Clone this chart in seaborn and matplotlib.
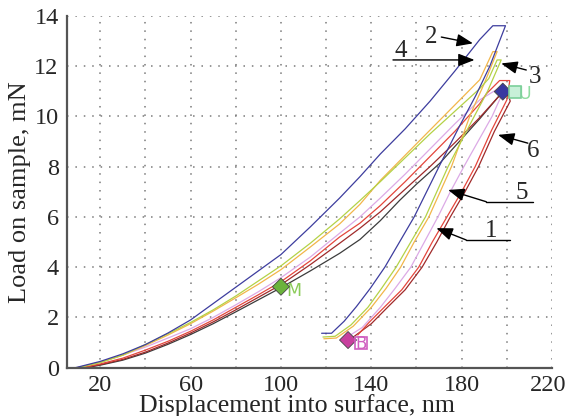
import matplotlib
matplotlib.use("Agg")
import matplotlib.pyplot as plt
import matplotlib.transforms as mtransforms
import seaborn as sns
import pandas as pd
from matplotlib.ticker import MultipleLocator, FuncFormatter

# ---------------- data (displacement nm, load mN) ----------------
# curve 2 (blue): loading, hold, unloading, hold
c2_x = [9, 20, 30, 40, 50, 60, 70, 80, 90, 100, 113, 126, 135, 144, 155, 166, 177, 188, 193.8,
        199.4, 192.5, 186.4, 179, 170, 164.5, 159, 152.5, 146, 139.5, 133.4, 128, 122.4, 118]
c2_y = [0, 0.25, 0.55, 0.92, 1.38, 1.9, 2.55, 3.2, 3.85, 4.5, 5.6, 6.75, 7.6, 8.5, 9.5, 10.6, 11.8, 13.05, 13.6,
        13.6, 12.0, 10.85, 9.6, 8.0, 7.0, 6.0, 5.0, 4.0, 3.15, 2.43, 1.85, 1.37, 1.37]

# curve 3 (yellow-green)
c3_x = [10, 20, 30, 40, 50, 60, 70, 80, 90, 100, 113, 126, 135, 144, 155, 166, 177, 188, 192, 195.7,
        197.5, 191.5, 185, 174, 169, 164, 157.5, 151, 144.5, 138.5, 131, 124, 118.6]
c3_y = [0, 0.2, 0.5, 0.92, 1.35, 1.8, 2.3, 2.85, 3.45, 4.05, 4.95, 5.92, 6.65, 7.4, 8.35, 9.3, 10.2, 11.1, 11.5, 12.24,
        12.24, 11.0, 9.9, 8.0, 7.0, 6.0, 5.0, 4.0, 3.15, 2.4, 1.7, 1.25, 1.22]

# curve 4 (orange)
c4_x = [10, 20, 30, 40, 50, 60, 70, 80, 90, 100, 113, 126, 135, 144, 155, 166, 177, 188, 193.8,
        195.7, 190, 184, 175.5, 170.5, 165.5, 159, 153, 146.5, 140, 132, 124.5, 119]
c4_y = [0, 0.22, 0.5, 0.88, 1.3, 1.75, 2.25, 2.78, 3.32, 3.9, 4.8, 5.72, 6.5, 7.45, 8.45, 9.45, 10.45, 11.45, 12.57,
        12.57, 11.3, 10.1, 8.0, 7.0, 6.0, 5.0, 4.0, 3.15, 2.4, 1.65, 1.18, 1.15]

# curve 5 (pink)
c5_x = [10, 20, 30, 40, 50, 60, 70, 80, 90, 100, 113, 126, 135, 144, 155, 166, 177, 188, 198,
        199.5, 193.5, 181, 175, 169.5, 163.5, 157.5, 150.5, 144, 136, 129]
c5_y = [0, 0.22, 0.5, 0.82, 1.18, 1.55, 2.0, 2.5, 3.02, 3.58, 4.4, 5.35, 6.0, 6.75, 7.7, 8.7, 9.7, 10.65, 11.2,
        11.2, 10.0, 8.0, 7.0, 6.0, 5.0, 4.0, 3.15, 2.4, 1.6, 1.2]

# curve 6 (red)
c6_x = [12, 20, 30, 40, 50, 60, 70, 80, 90, 100, 113, 126, 135, 144, 155, 166, 177, 188, 191, 196.8,
        201.3, 200, 193, 186, 180, 173.5, 167, 161, 153.5, 146, 139, 134]
c6_y = [0, 0.15, 0.38, 0.7, 1.05, 1.45, 1.9, 2.4, 2.9, 3.42, 4.25, 5.2, 5.75, 6.45, 7.4, 8.4, 9.4, 10.5, 10.9, 11.42,
        11.42, 10.65, 9.4, 8.0, 7.0, 6.0, 5.0, 4.0, 3.1, 2.43, 1.8, 1.3]

# curve 1 (dark red)
c1_x = [12, 20, 30, 40, 50, 60, 70, 80, 90, 100, 113, 126, 135, 144, 155, 166, 177, 188, 196, 200,
        201.5, 194.5, 187.5, 181.5, 175, 169, 162.5, 155, 147.5, 140, 131]
c1_y = [0, 0.12, 0.33, 0.62, 0.98, 1.38, 1.82, 2.3, 2.8, 3.3, 4.1, 4.95, 5.55, 6.2, 7.1, 8.0, 8.95, 9.95, 10.75, 11.05,
        10.6, 9.4, 8.0, 7.0, 6.0, 5.0, 4.0, 3.1, 2.43, 1.75, 1.15]

# loading trace (dark grey)
c0_x = [14, 20, 30, 40, 50, 60, 70, 80, 90, 100, 113, 126, 135, 144, 152.6, 160, 170.3, 180, 188, 198.2]
c0_y = [0, 0.1, 0.3, 0.58, 0.93, 1.32, 1.75, 2.22, 2.7, 3.18, 3.85, 4.55, 5.1, 5.85, 6.66, 7.3, 8.13, 9.1, 9.9, 10.98]

curves = {"0": (c0_x, c0_y), "1": (c1_x, c1_y), "5": (c5_x, c5_y), "6": (c6_x, c6_y),
          "4": (c4_x, c4_y), "3": (c3_x, c3_y), "2": (c2_x, c2_y)}
colors = {"0": "#3c3c3c", "1": "#a02a2a", "5": "#dcaae6", "6": "#e4463c",
          "4": "#f2b64a", "3": "#b4d246", "2": "#3d3d9e"}

# marker points
mark_x = [100, 198.2, 129.7]
mark_y = [3.22, 10.98, 1.1]
mark_lab = ["M", "U", "B"]

rows = []
for name, (xs, ys) in curves.items():
    for i, (x, y) in enumerate(zip(xs, ys)):
        rows.append({"curve": name, "i": i, "x": x, "y": y})
df = pd.DataFrame(rows)

sns.set_style("white")
plt.rcParams["font.family"] = ["Liberation Serif", "DejaVu Serif"]

fig = plt.figure(figsize=(5.66, 4.16), dpi=100)
ax = fig.add_axes([0.1184, 0.1161, 0.9753 - 0.1184, 0.9623 - 0.1161])

sns.lineplot(data=df, x="x", y="y", hue="curve", palette=colors, sort=False,
             estimator=None, linewidth=0.9, legend=False, ax=ax)

# markers
mk = pd.DataFrame({"x": mark_x, "y": mark_y, "lab": mark_lab})
mcol = {"M": "#6bb33c", "U": "#3838a0", "B": "#c8409e"}
sns.scatterplot(data=mk, x="x", y="y", hue="lab", palette=mcol, marker="D", s=75,
                edgecolor="#444444", linewidth=0.6, legend=False, ax=ax, zorder=5)
ax.plot([mark_x[1] + 5.3], [mark_y[1]], marker="s", ms=8, mfc="#c8f0d8", mec="#7ccf9a", mew=1.2, zorder=5)
ax.plot([mark_x[2] + 5.6], [mark_y[2] - 0.12], marker="s", ms=8, mfc="none", mec="#d060c0", mew=1.2, zorder=5)
ax.text(mark_x[0] + 2.5, mark_y[0] - 0.15, "M", color="#8ccc5a", fontsize=12.5,
        family="DejaVu Sans", va="center", ha="left")
ax.text(mark_x[1] + 6.8, mark_y[1] - 0.1, "U", color="#8fdca0", fontsize=12.5,
        family="DejaVu Sans", va="center", ha="left")
ax.text(mark_x[2] + 5.6, mark_y[2] - 0.15, "B", color="#d060c0", fontsize=12,
        family="DejaVu Sans", va="center", ha="center")

# axes styling
ax.set_xlim(5.3, 220)
ax.set_ylim(0, 14)
ax.xaxis.set_major_locator(MultipleLocator(20))
ax.xaxis.set_minor_locator(MultipleLocator(10))
ax.yaxis.set_major_locator(MultipleLocator(2))
ax.yaxis.set_minor_locator(MultipleLocator(1))
ax.xaxis.set_major_formatter(FuncFormatter(lambda v, p: "%d" % v if round(v - 20) % 40 == 0 else ""))
ax.tick_params(which="both", direction="inout", length=6, width=1.0, color="#555555",
               labelsize=17.5, pad=2)
ax.tick_params(axis="y", pad=3)
for s in ["top", "right"]:
    ax.spines[s].set_visible(False)
for s in ["left", "bottom"]:
    ax.spines[s].set_color("#555555")
    ax.spines[s].set_linewidth(1.6)
ax.grid(True, which="major", color="#7a7a7a", linestyle=(0, (1, 4.5)), linewidth=1.1)
ax.set_axisbelow(True)

ax.set_xlabel("Displacement into surface, nm", fontsize=18.6)
ax.xaxis.set_label_coords(0.475, -0.074)
ax.set_ylabel("Load on sample, mN", fontsize=19)
ax.yaxis.set_label_coords(-0.074, 0.5)

fig.canvas.draw()
for lab in ax.get_xticklabels():
    if lab.get_text() == "220":
        lab.set_transform(lab.get_transform() + mtransforms.ScaledTranslation(-4 / 100, 0, fig.dpi_scale_trans))

# annotations
ap = dict(arrowstyle="-|>,head_length=0.9,head_width=0.35", color="black", lw=1.0,
          shrinkA=0, shrinkB=0, mutation_scale=11)
ax.text(166.6, 13.15, "2", fontsize=18, ha="center", va="center")
ax.annotate("", xy=(185, 12.9), xytext=(171, 13.15), arrowprops=ap)
ax.text(152.9, 12.6, "4", fontsize=18, ha="center", va="center")
ax.annotate("", xy=(185.7, 12.24), xytext=(149.6, 12.24), arrowprops=ap)
ax.text(212.3, 11.55, "3", fontsize=18, ha="center", va="center")
ax.annotate("", xy=(197.5, 12.1), xytext=(208.6, 11.84), arrowprops=ap)
ax.text(211.8, 8.6, "6", fontsize=18, ha="center", va="center")
ax.annotate("", xy=(196.1, 9.26), xytext=(209.3, 8.93), arrowprops=ap)
ax.text(206.4, 6.95, "5", fontsize=18, ha="center", va="center")
ax.plot([190.9, 211.5], [6.6, 6.6], color="black", lw=1.0)
ax.annotate("", xy=(174, 7.07), xytext=(190.9, 6.6), arrowprops=ap)
ax.text(193.1, 5.45, "1", fontsize=18, ha="center", va="center")
ax.plot([182, 201.2], [5.08, 5.08], color="black", lw=1.0)
ax.annotate("", xy=(168.8, 5.55), xytext=(182, 5.08), arrowprops=ap)

fig.savefig("out.png", dpi=100)
